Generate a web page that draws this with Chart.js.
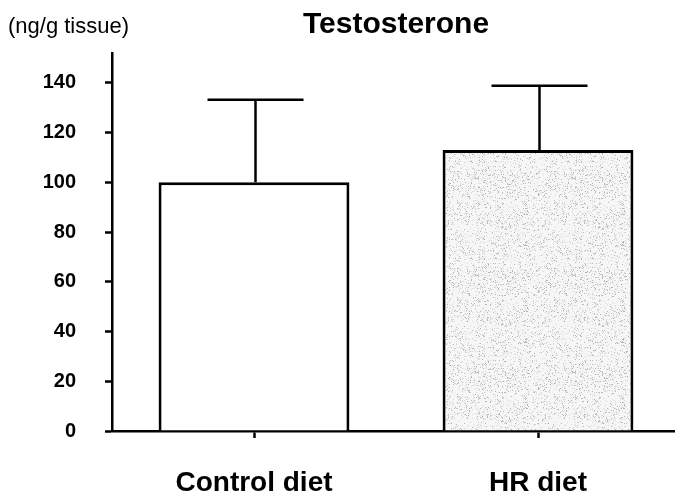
<!DOCTYPE html>
<html>
<head>
<meta charset="utf-8">
<script src="https://cdn.jsdelivr.net/npm/chart.js@4/dist/chart.umd.min.js"></script>
<style>
  html, body { margin: 0; padding: 0; background: #fff; overflow: hidden; }
  #wrap { width: 680px; height: 497px; }
</style>
</head>
<body>
<div id="wrap"><canvas id="testoChart"></canvas></div>
<script>
// values
const categories = ['Control diet', 'HR diet'];
const meanValues = [100, 113];
const errorValues = [33.2, 25.8];
const yTicks = [0, 20, 40, 60, 80, 100, 120, 140];

const FONT = '"Liberation Sans", Arial, Helvetica, sans-serif';

// light grey stipple used for the HR bar (fixed xorshift texture)
function makeStipple() {
  const c = document.createElement('canvas');
  c.width = 97;
  c.height = 97;
  const g = c.getContext('2d');
  g.fillStyle = '#f6f6f6';
  g.fillRect(0, 0, 97, 97);
  let s = 2463534242;
  const next = () => {
    s ^= s << 13; s >>>= 0;
    s ^= s >>> 17;
    s ^= s << 5; s >>>= 0;
    return s;
  };
  for (let i = 0; i < 1700; i++) {
    const x = next() % 97;
    const y = next() % 97;
    g.fillStyle = (next() % 3 === 0) ? '#b6b6b6' : '#d8d8d8';
    g.fillRect(x, y, 1, 1);
  }
  return g.createPattern(c, 'repeat');
}

const errorBars = {
  id: 'errorBars',
  afterDatasetsDraw(chart) {
    const { ctx, scales: { x, y } } = chart;
    ctx.save();
    ctx.strokeStyle = '#000';
    ctx.lineWidth = 2.5;
    meanValues.forEach((m, i) => {
      const cx = x.getPixelForValue(i) + 1.5;
      const top = y.getPixelForValue(m + errorValues[i]);
      const base = y.getPixelForValue(m);
      ctx.beginPath();
      ctx.moveTo(cx, base);
      ctx.lineTo(cx, top);
      ctx.moveTo(cx - 48, top);
      ctx.lineTo(cx + 48, top);
      ctx.stroke();
    });
    ctx.restore();
  }
};

const labels = {
  id: 'labels',
  afterDraw(chart) {
    const { ctx, chartArea } = chart;
    ctx.save();
    ctx.fillStyle = '#000';
    ctx.textBaseline = 'middle';
    ctx.textAlign = 'center';
    ctx.font = 'bold 30px ' + FONT;
    ctx.fillText('Testosterone', (chartArea.left + chartArea.right) / 2, 25);
    ctx.textAlign = 'left';
    ctx.font = '22px ' + FONT;
    ctx.fillText('(ng/g tissue)', 8, 27);
    ctx.restore();
  }
};

new Chart(document.getElementById('testoChart'), {
  type: 'bar',
  data: {
    labels: categories,
    datasets: [{
      data: meanValues,
      backgroundColor: ['#ffffff', makeStipple()],
      borderColor: '#000',
      borderWidth: 3,
      barPercentage: 0.672,
      categoryPercentage: 1
    }]
  },
  options: {
    responsive: true,
    maintainAspectRatio: false,
    animation: false,
    layout: { padding: { left: 0, top: 53, right: 0, bottom: 0 } },
    plugins: {
      legend: { display: false },
      title: { display: false },
      tooltip: { enabled: false }
    },
    scales: {
      x: {
        afterFit(scale) { scale.height = 66; },
        border: { display: true, color: '#000', width: 2.5 },
        grid: { offset: false, drawOnChartArea: false, drawTicks: true, tickLength: 7, tickWidth: 2.5, tickColor: '#000' },
        ticks: { color: '#000', padding: 28, font: { family: FONT, size: 28, weight: 'bold' } }
      },
      y: {
        min: 0,
        max: 152,
        afterFit(scale) { scale.width = 112; },
        afterBuildTicks(scale) { scale.ticks = yTicks.map(v => ({ value: v })); },
        border: { display: true, color: '#000', width: 2.5 },
        grid: { drawOnChartArea: false, drawTicks: true, tickLength: 7, tickWidth: 2.5, tickColor: '#000' },
        ticks: { color: '#000', padding: 29, font: { family: FONT, size: 20, weight: 'bold' } }
      }
    }
  },
  plugins: [errorBars, labels]
});
</script>
</body>
</html>
